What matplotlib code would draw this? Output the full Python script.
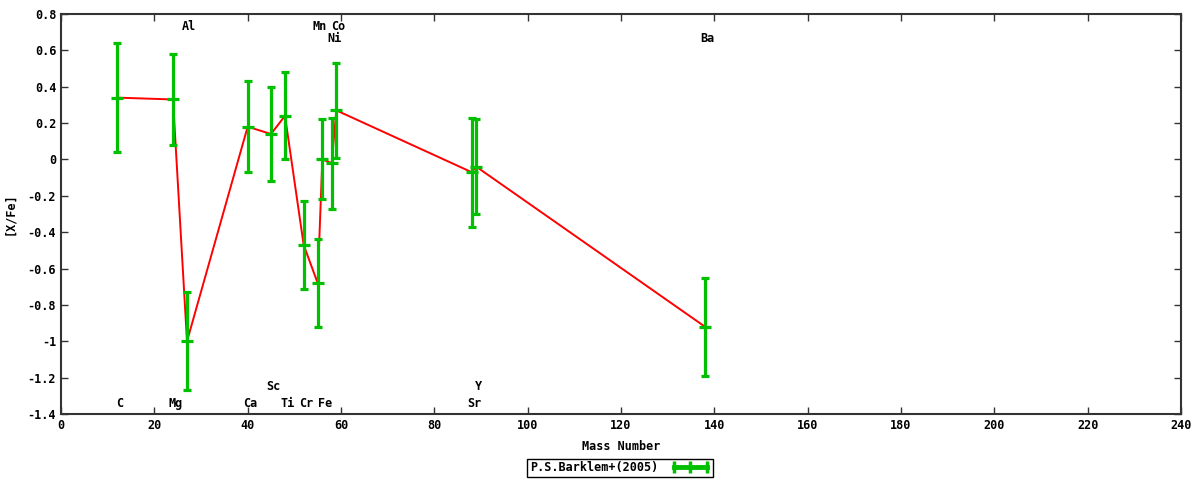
import numpy as np
import matplotlib.pyplot as plt
from matplotlib.lines import Line2D

plt.rcParams['font.family'] = 'DejaVu Sans Mono'
plt.rcParams['font.weight'] = 'bold'

# element data (mass number, [X/Fe], error)
elements = ['C', 'Mg', 'Al', 'Ca', 'Sc', 'Ti', 'Cr', 'Mn', 'Fe', 'Ni', 'Co', 'Sr', 'Y', 'Ba']
mass = [12, 24, 27, 40, 45, 48, 52, 55, 56, 58, 59, 88, 89, 138]
xfe = [0.34, 0.33, -1.00, 0.18, 0.14, 0.24, -0.47, -0.68, 0.00, -0.02, 0.27, -0.07, -0.04, -0.92]
err = [0.30, 0.25, 0.27, 0.25, 0.26, 0.24, 0.24, 0.24, 0.22, 0.25, 0.26, 0.30, 0.26, 0.27]

# label rows for the element names
label_y = [-1.34, -1.34, 0.73, -1.34, -1.25, -1.34, -1.34, 0.73, -1.34, 0.665, 0.73, -1.34, -1.25, 0.665]

xticks = np.arange(0, 241, 20)
yticks = np.round(np.arange(-1.4, 0.81, 0.2), 1)


def plot_chart():
    fig = plt.figure(figsize=(12, 4.8), dpi=100)
    ax = fig.add_axes([61 / 1200, 1 - 414 / 480, 1120 / 1200, 400 / 480])

    ax.plot(mass, xfe, color='#ff0000', linewidth=1.4, zorder=2)
    ax.errorbar(mass, xfe, yerr=err, fmt='none', ecolor='#00c000',
                elinewidth=2.3, capsize=3.2, capthick=2.3, zorder=3)
    ax.plot(mass, xfe, linestyle='none', marker='_', markersize=8,
            markeredgewidth=2.3, color='#00c000', zorder=3)

    for name, m, ly in zip(elements, mass, label_y):
        ax.text(m + 0.5, ly, name, ha='center', va='center', fontsize=8.5,
                fontweight='bold')

    ax.set_xlim(0, 240)
    ax.set_ylim(-1.4, 0.8)
    ax.set_xticks(xticks)
    ax.set_yticks(yticks)
    ax.set_yticklabels(['%g' % (abs(v) if v == 0 else v) for v in yticks])
    ax.tick_params(direction='in', top=True, right=True, length=5,
                   labelsize=8.5, width=1, color='#333333')
    for sp in ax.spines.values():
        sp.set_linewidth(1.5)
        sp.set_color('#333333')

    ax.set_xlabel('Mass Number', fontsize=8.5, fontweight='bold', labelpad=6)
    ax.set_ylabel('[X/Fe]', fontsize=8.5, fontweight='bold', labelpad=8)

    # legend sample: horizontal error bar like gnuplot's key
    handle = Line2D([0], [0], color='#00c000', linewidth=3.5, marker='|',
                    markersize=8, markeredgewidth=2.5)
    leg = ax.legend([handle], ['P.S.Barklem+(2005)'], loc='center',
                    bbox_to_anchor=(559 / 1120, -54 / 400),
                    fancybox=False, framealpha=1, edgecolor='black',
                    fontsize=8.5, markerfirst=False, handlelength=3.4,
                    numpoints=3, borderpad=0.25, borderaxespad=0,
                    handletextpad=1.0)
    leg.get_frame().set_linewidth(1.0)

    fig.savefig('out.png', dpi=100)


def main():
    plot_chart()


if __name__ == '__main__':
    main()
